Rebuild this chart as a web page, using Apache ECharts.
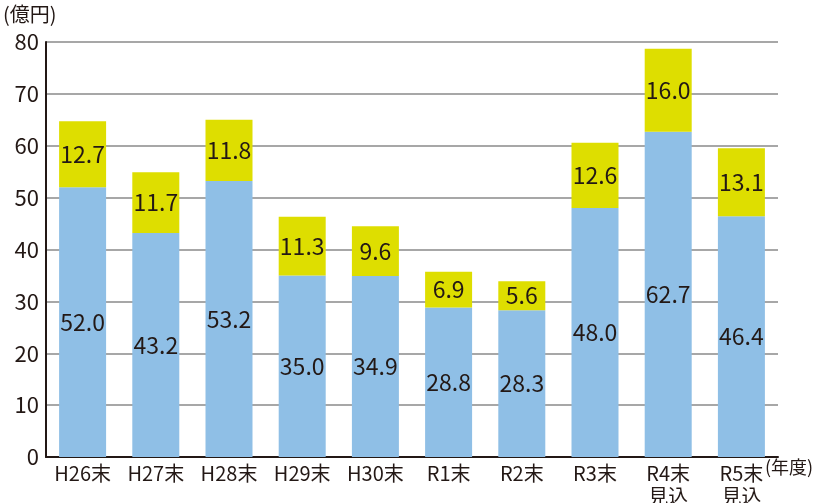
<!DOCTYPE html>
<html lang="ja">
<head>
    <meta charset="UTF-8">
    <title>chart</title>
    <script src="https://cdn.jsdelivr.net/npm/echarts@6/dist/echarts.min.js"></script>
    <style>
        body { margin: 0; background: #fff; }
        #main { width: 824px; height: 503px; }
    </style>
</head>
<body>
<div id="main"></div>
<script>
    // 年度
    var categories = ['H26末', 'H27末', 'H28末', 'H29末', 'H30末', 'R1末', 'R2末', 'R3末', 'R4末\n見込', 'R5末\n見込'];
    // 下段（青）
    var lowerValues = [52.0, 43.2, 53.2, 35.0, 34.9, 28.8, 28.3, 48.0, 62.7, 46.4];
    // 上段（黄）
    var upperValues = [12.7, 11.7, 11.8, 11.3, 9.6, 6.9, 5.6, 12.6, 16.0, 13.1];

    var textColor = '#231815';
    var fontName = '"Noto Sans CJK JP", "Noto Sans", sans-serif';

    var myChart = echarts.init(document.getElementById('main'));

    var labelStyle = {
        show: true,
        position: 'inside',
        color: textColor,
        fontSize: 23,
        fontFamily: fontName,
        formatter: function (p) { return p.value.toFixed(1); }
    };

    var option = {
        animation: false,
        textStyle: { fontFamily: fontName },
        grid: { left: 46, right: 46, top: 42, bottom: 46, outerBoundsMode: 'none', containLabel: false },
        graphic: [
            { type: 'text', left: 3, top: 4, style: { text: '(億円)', fill: textColor, font: '20px ' + fontName } },
            { type: 'text', left: 765, top: 458, style: { text: '(年度)', fill: textColor, font: '18px ' + fontName } }
        ],
        xAxis: {
            type: 'category',
            data: categories,
            axisLine: { lineStyle: { color: textColor, width: 2 } },
            axisTick: { inside: true, length: 8, lineStyle: { color: textColor, width: 1.5 } },
            axisLabel: {
                interval: 0, hideOverlap: false,
                color: textColor, fontSize: 20, lineHeight: 23, margin: 5, fontFamily: fontName
            }
        },
        yAxis: {
            type: 'value',
            min: 0,
            max: 80,
            interval: 10,
            axisLine: { show: true, lineStyle: { color: textColor, width: 2 } },
            axisTick: { show: false },
            axisLabel: { color: textColor, fontSize: 22, margin: 7, fontFamily: fontName },
            splitLine: { lineStyle: { color: '#8a8a8a', width: 1.5 } }
        },
        series: [
            {
                type: 'bar',
                stack: 'total',
                barWidth: 47,
                data: lowerValues,
                itemStyle: { color: '#8fbfe6' },
                label: labelStyle
            },
            {
                type: 'bar',
                stack: 'total',
                barWidth: 47,
                data: upperValues,
                itemStyle: { color: '#dede00' },
                label: labelStyle
            }
        ]
    };

    myChart.setOption(option);
</script>
</body>
</html>
